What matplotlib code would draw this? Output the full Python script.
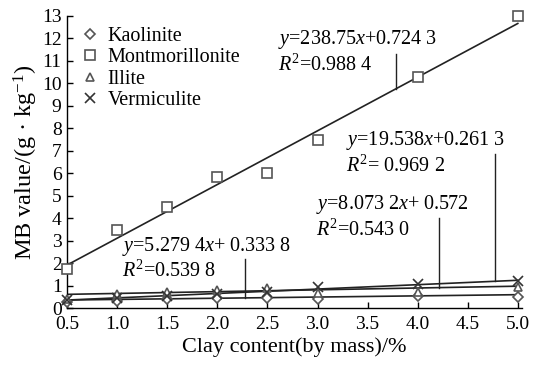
import matplotlib
matplotlib.use("Agg")
import matplotlib.pyplot as plt
import numpy as np

plt.rcParams["font.family"] = "Liberation Serif"
plt.rcParams["mathtext.fontset"] = "custom"
plt.rcParams["mathtext.rm"] = "Liberation Serif"
plt.rcParams["mathtext.it"] = "Liberation Serif:italic"

clay = [0.5, 1.0, 1.5, 2.0, 2.5, 3.0, 4.0, 5.0]
kaolinite = [0.28, 0.33, 0.42, 0.45, 0.46, 0.40, 0.55, 0.50]
montmorillonite = [1.74, 3.48, 4.50, 5.82, 6.00, 7.50, 10.27, 13.0]
illite = [0.42, 0.62, 0.72, 0.82, 0.90, 0.68, 0.72, 0.95]
vermiculite = [0.38, 0.45, 0.55, 0.62, 0.70, 0.92, 1.07, 1.20]

names = ["Kaolinite", "Montmorillonite", "Illite", "Vermiculite"]
markers = ["D", "s", "^", "x"]
sizes = [5, 7, 6, 7]

# fitted lines, x as mass fraction
slopes = [5.2794, 238.75, 8.0732, 19.538]
intercepts = [0.3338, 0.7243, 0.572, 0.2613]
eq_text = [
    "$y$=5.279 4$x$+ 0.333 8\n$R^2$=0.539 8",
    "$y$=238.75$x$+0.724 3\n$R^2$=0.988 4",
    "$y$=8.073 2$x$+ 0.572\n$R^2$=0.543 0",
    "$y$=19.538$x$+0.261 3\n$R^2$= 0.969 2",
]
eq_xy = [(1.05, 1.15), (2.61, 10.35), (2.98, 3.0), (3.28, 5.85)]
leader_x = [2.28, 3.78, 4.21, 4.77]
leader_top = [2.2, 11.3, 4.0, 6.85]

fig = plt.figure(figsize=(5.33, 3.69), dpi=100)
ax = fig.add_axes([0.126, 0.165, 0.853, 0.792])

series = [kaolinite, montmorillonite, illite, vermiculite]
xs = np.array([clay[0], clay[-1]])
for vals, name, m, s, k, b in zip(series, names, markers, sizes, slopes, intercepts):
    ax.plot(xs, k * xs / 100 + b, color="#222222", lw=1.2, zorder=2)
    if m == "x":
        ax.plot(clay, vals, ls="none", marker=m, ms=s, mew=1.2, color="#333333",
                label=name, zorder=3, clip_on=False)
    else:
        ax.plot(clay, vals, ls="none", marker=m, ms=s, mew=1.2, mfc="white",
                mec="#555555", label=name, zorder=3, clip_on=False)

for txt, (tx, ty), lx, top, k, b in zip(eq_text, eq_xy, leader_x, leader_top, slopes, intercepts):
    ax.text(tx, ty, txt, fontsize=14.5, linespacing=1.2, va="bottom", ha="left")
    ax.plot([lx, lx], [k * lx / 100 + b, top], color="#222222", lw=1.0)

ax.set_xlim(0.5, 5.04)
ax.set_ylim(0, 13)
ax.set_xticks(np.arange(0.5, 5.01, 0.5))
ax.set_xticklabels([f"{v:.1f}" for v in np.arange(0.5, 5.01, 0.5)])
ax.set_yticks(range(0, 14))
ax.tick_params(direction="in", length=4, width=1, labelsize=14)
ax.tick_params(axis="x", pad=6)
ax.tick_params(axis="y", pad=4)
for side in ("top", "right"):
    ax.spines[side].set_visible(False)
for side in ("left", "bottom"):
    ax.spines[side].set_linewidth(1.0)

ax.set_xlabel("Clay content(by mass)/%", fontsize=16, labelpad=3)
ax.set_ylabel("MB value/(g · kg$^{-1}$)", fontsize=17.5, labelpad=1)

ax.legend(loc="upper left", bbox_to_anchor=(0.005, 1.005), frameon=False, fontsize=14.5,
          handlelength=0.8, handletextpad=0.5, labelspacing=0.12, borderaxespad=0.2)

fig.savefig("out.png", dpi=100)
